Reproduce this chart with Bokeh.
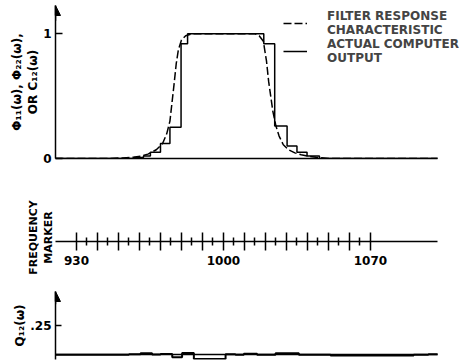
from bokeh.plotting import figure
from bokeh.layouts import column
from bokeh.models import Range1d, FixedTicker, Arrow, NormalHead, Legend, LegendItem, Title
from bokeh.embed import file_html
from bokeh.resources import INLINE

# ---------------- data ----------------
# Filter response characteristic (dashed curve): frequency, response
filter_freq = [920, 945, 952, 957, 961, 964, 968, 971, 973, 974.5, 975.5, 976.5, 977.5,
               978.5, 980, 982, 985, 1015, 1017, 1019, 1020.5, 1021.5, 1022.5, 1023.5,
               1025, 1026.5, 1028.5, 1031, 1034, 1037, 1040, 1044, 1050, 1102]
filter_resp = [0, 0, 0.005, 0.01, 0.02, 0.035, 0.07, 0.12, 0.2, 0.3, 0.45, 0.6, 0.76,
               0.87, 0.95, 0.985, 1.0, 1.0, 0.985, 0.94, 0.78, 0.62, 0.5, 0.38,
               0.26, 0.18, 0.11, 0.07, 0.045, 0.03, 0.02, 0.01, 0.0, 0.0]

# Actual computer output (solid step curve): left edge of each step, value
output_freq = [920, 957.5, 961.9, 965.2, 970, 974.5, 979.8, 982.9, 1019.2, 1024.4,
               1030.3, 1035, 1039.8, 1045.7, 1102]
output_value = [0, 0.008, 0.02, 0.05, 0.12, 0.25, 0.92, 1.0, 0.92, 0.26,
                0.10, 0.05, 0.02, 0, 0]

# Quadrature spectrum Q12 (step curve)
quad_freq = [920, 955, 960.5, 966, 970, 975.6, 980.3, 985.9, 1001, 1005.7, 1009.7,
             1016, 1024.8, 1035.9, 1051, 1090.6, 1097.6, 1102]
quad_value = [0, 0.004, 0.013, 0.002, 0.008, -0.02, 0.015, -0.035, 0.004, 0, 0.01,
              0, 0.013, 0, -0.006, 0, 0.005, 0.005]

# Frequency markers
marker_major = [930, 940, 950, 960, 970, 980, 990, 1000, 1010, 1020, 1030, 1040,
                1050, 1060, 1070]
marker_minor = [935, 945, 955, 965, 975, 985, 995, 1005, 1015, 1025, 1035, 1045,
                1055, 1065]
marker_labels = {930: "930", 1000: "1000", 1070: "1070"}

phi_ticks = [0, 1]
phi_tick_labels = {0: "0", 1: "1"}
q_ticks = [0.25]
q_tick_labels = {0.25: ".25"}

FREQ_MIN, FREQ_END = 920, 1101.9     # extent of the drawn frequency axes
FREQ_MAX = 1116.7                    # frames run on under the legend
PHI_MIN, PHI_MAX = 0, 1.227
Q_MIN, Q_MAX = -0.040, 0.541

TXT_FONT = "DejaVu Sans"
NUM_FONT = "DejaVu Sans"
W = 468

x_range = Range1d(FREQ_MIN, FREQ_MAX)


def base_fig(height, y_range, top, bottom):
    p = figure(width=W, height=height, x_range=x_range, y_range=y_range,
               output_backend="svg", toolbar_location=None,
               min_border_left=55, min_border_right=0,
               min_border_top=top, min_border_bottom=bottom)
    p.outline_line_color = None
    p.grid.visible = False
    for ax in p.axis:
        ax.axis_line_width = 1.5
        ax.axis_line_color = "black"
        ax.major_tick_line_width = 1.5
        ax.minor_tick_line_width = 1.5
        ax.major_tick_line_color = "black"
        ax.minor_tick_line_color = "black"
        ax.major_label_text_font = NUM_FONT
        ax.major_label_text_font_size = "12px"
        ax.major_label_text_font_style = "bold"
        ax.major_label_text_color = "black"
    p.xaxis.bounds = (FREQ_MIN, FREQ_END)
    return p


def side_title(p, text, offset, size="12px"):
    p.add_layout(Title(text=text, align="center", vertical_align="middle", offset=offset,
                       standoff=0, text_font=TXT_FONT, text_font_size=size,
                       text_font_style="bold", text_color="black"), "left")


def no_ticks(ax):
    ax.ticker = FixedTicker(ticks=[])
    ax.major_tick_line_color = None
    ax.minor_tick_line_color = None


# ---------------- top panel ----------------
p1 = base_fig(175, Range1d(PHI_MIN, PHI_MAX), 5, 17)
r_f = p1.line(filter_freq, filter_resp, line_color="black", line_width=1.5, line_dash="8 3")
r_o = p1.step(output_freq, output_value, mode="after", line_color="black", line_width=1.5)
no_ticks(p1.xaxis[0])
p1.yaxis.ticker = FixedTicker(ticks=phi_ticks)
p1.yaxis.major_label_overrides = phi_tick_labels
p1.yaxis.major_tick_in = 7
p1.yaxis.major_tick_out = 0
p1.yaxis.minor_tick_line_color = None
p1.yaxis.major_label_standoff = 4
p1.add_layout(Arrow(end=NormalHead(size=10, fill_color="black", line_color="black"),
                    x_start=FREQ_MIN, y_start=PHI_MAX * 0.9, x_end=FREQ_MIN, y_end=PHI_MAX,
                    line_width=1.5, line_color="black"))
side_title(p1, "OR C₁₂(ω)", 6)
side_title(p1, "Φ₁₁(ω), Φ₂₂(ω),", 10)
legend = Legend(items=[LegendItem(label="FILTER RESPONSE\nCHARACTERISTIC", renderers=[r_f]),
                       LegendItem(label="ACTUAL COMPUTER\nOUTPUT", renderers=[r_o])],
                location=(228, 93), orientation="vertical",
                glyph_width=24, glyph_height=14, label_standoff=20, spacing=0,
                padding=0, margin=0, border_line_color=None, background_fill_alpha=0,
                label_text_font=TXT_FONT, label_text_font_size="12px",
                label_text_font_style="bold", label_text_line_height=1.2)
p1.add_layout(legend)

# ---------------- frequency marker panel ----------------
p2 = base_fig(105, Range1d(0, 1), 58, 39)
p2.yaxis.visible = False
ax2 = p2.xaxis[0]
ax2.ticker = FixedTicker(ticks=marker_major, minor_ticks=marker_minor)
ax2.major_label_overrides = {t: marker_labels.get(t, "") for t in marker_major}
ax2.major_tick_in = 9
ax2.major_tick_out = 9
ax2.minor_tick_in = 4
ax2.minor_tick_out = 4
ax2.major_label_standoff = 5
side_title(p2, "MARKER", 6, "11px")
side_title(p2, "FREQUENCY", 0, "11px")

# ---------------- quadrature panel ----------------
p3 = base_fig(80, Range1d(Q_MIN, Q_MAX), 11, 1)
ax3 = p3.xaxis[0]
no_ticks(ax3)
ax3.fixed_location = 0
p3.step(quad_freq, quad_value, mode="after", line_color="black", line_width=2)
p3.yaxis.ticker = FixedTicker(ticks=q_ticks)
p3.yaxis.major_label_overrides = q_tick_labels
p3.yaxis.major_tick_in = 6
p3.yaxis.major_tick_out = 0
p3.yaxis.minor_tick_line_color = None
p3.yaxis.major_label_standoff = 4
p3.add_layout(Arrow(end=NormalHead(size=10, fill_color="black", line_color="black"),
                    x_start=FREQ_MIN, y_start=Q_MAX * 0.8, x_end=FREQ_MIN, y_end=Q_MAX,
                    line_width=1.5, line_color="black"))
side_title(p3, "Q₁₂(ω)", 3)

layout = column(p1, p2, p3, spacing=0)
open("out.html", "w").write(file_html(layout, INLINE))
